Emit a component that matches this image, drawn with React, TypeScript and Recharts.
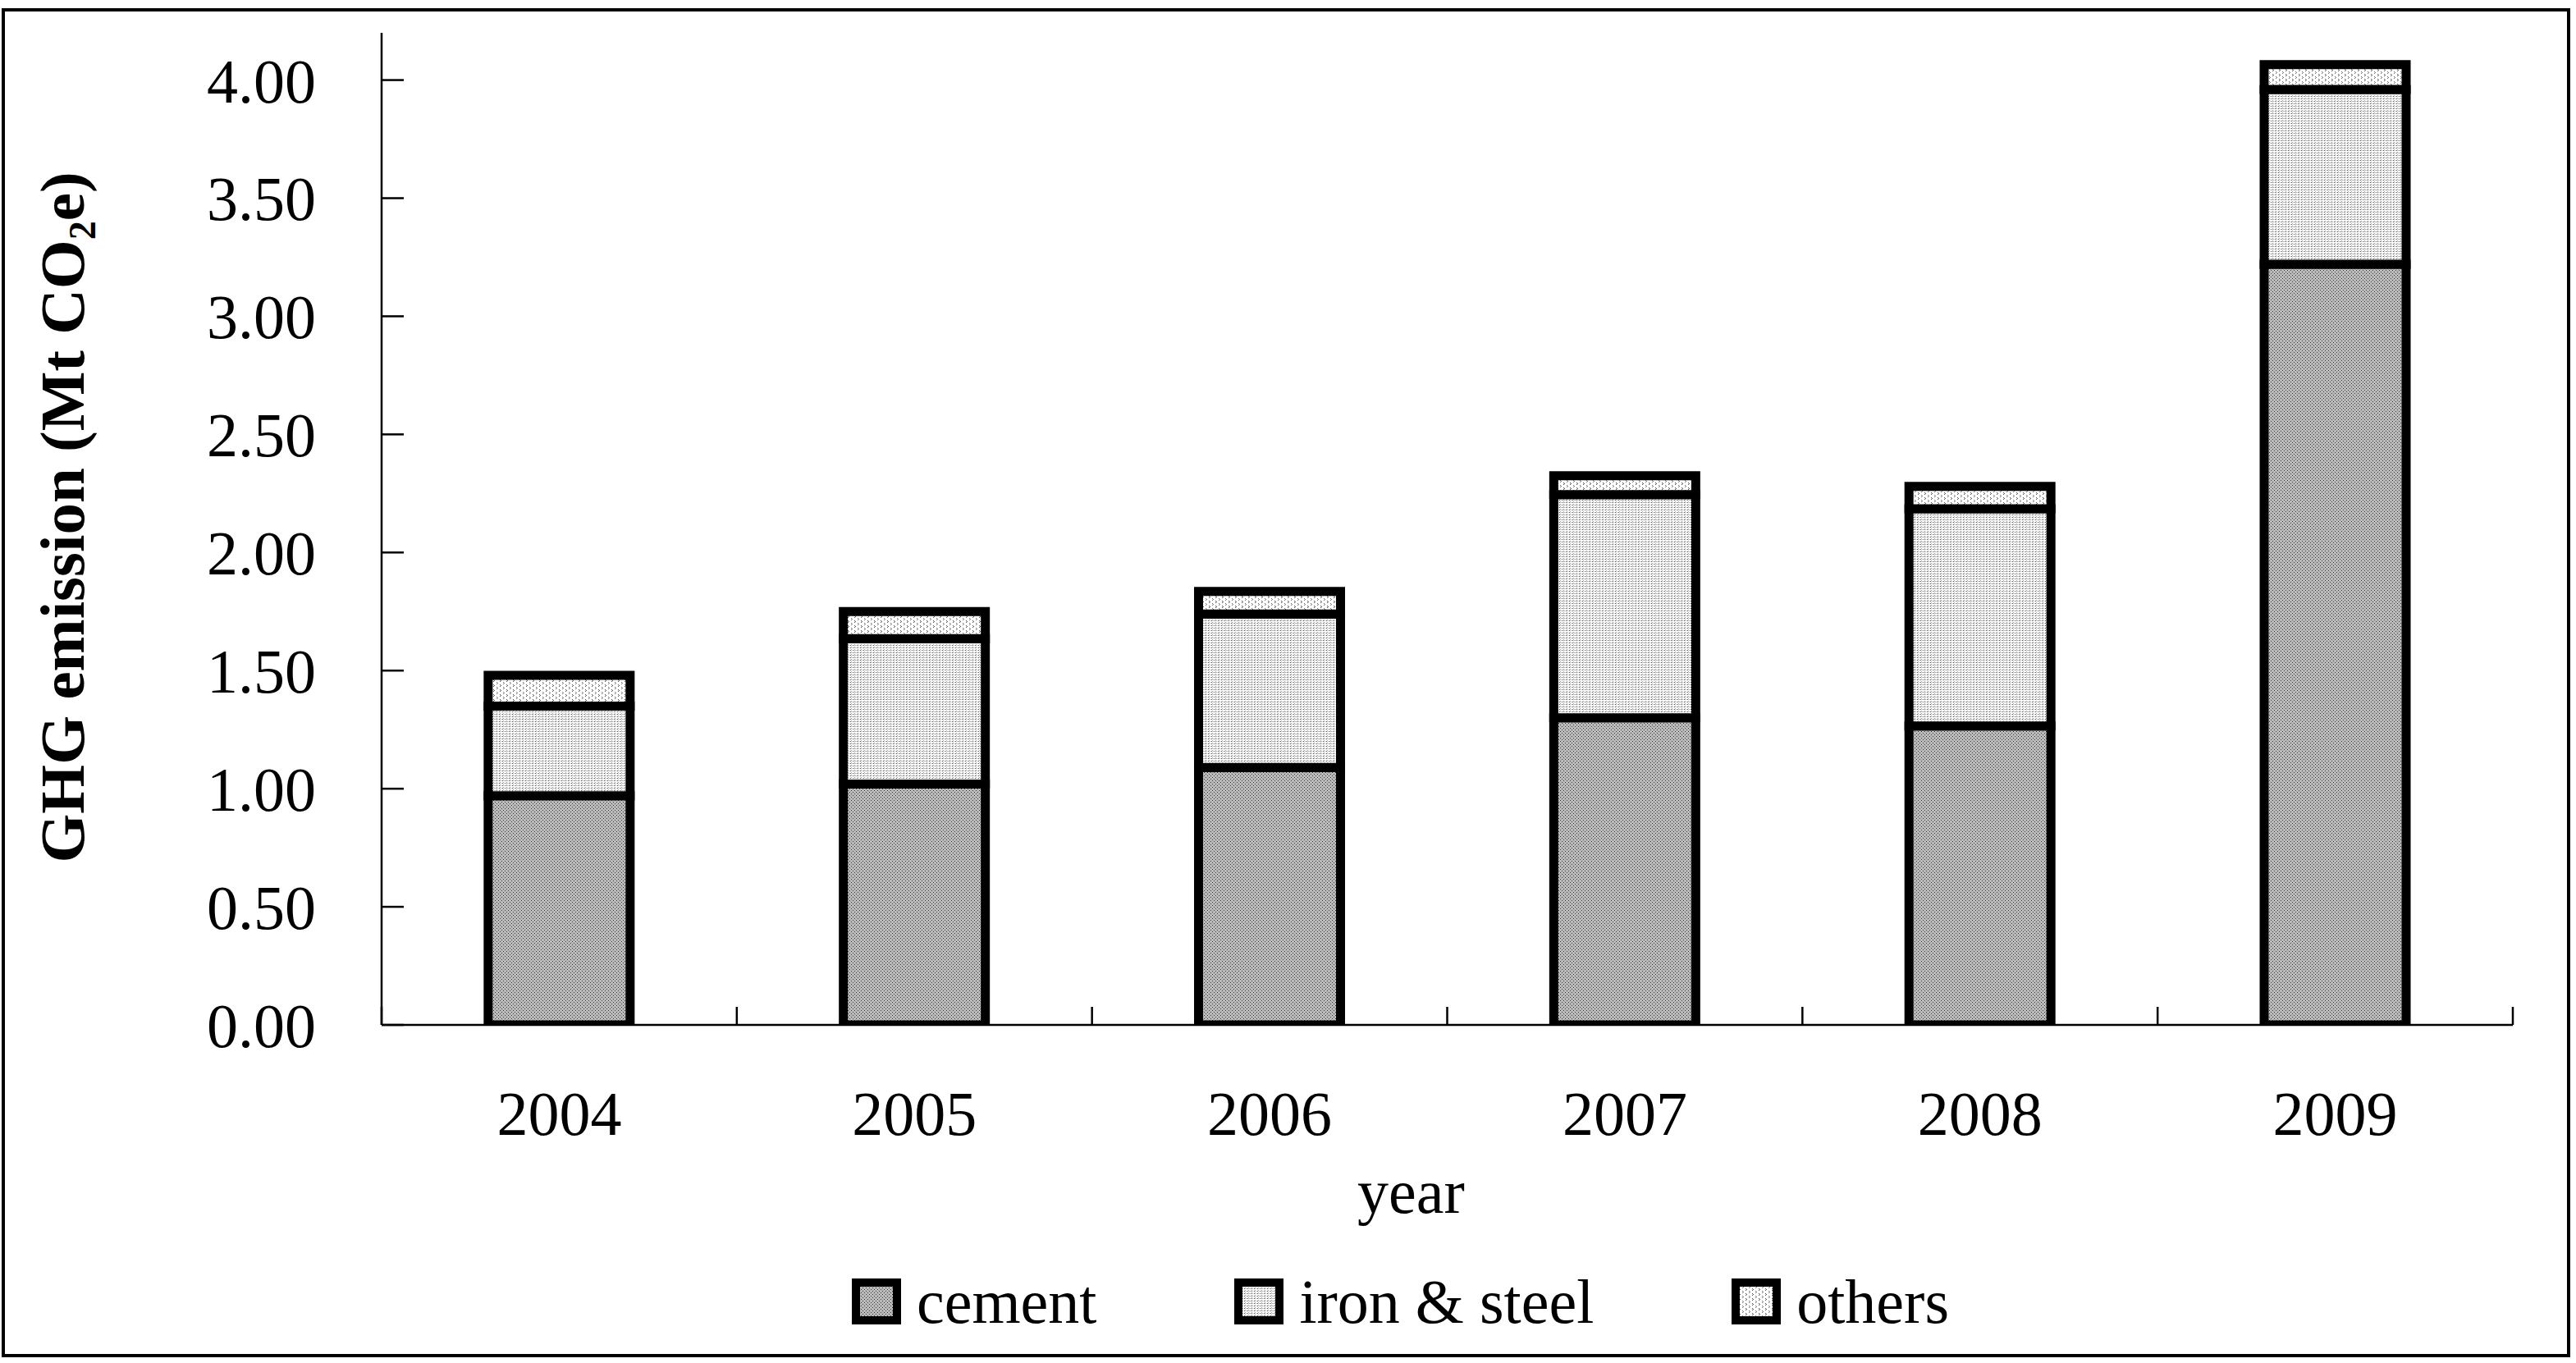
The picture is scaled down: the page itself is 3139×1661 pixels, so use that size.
import { Bar, BarChart, Label, XAxis, YAxis } from "recharts"

// values (Mt CO2e)
const years = ["2004", "2005", "2006", "2007", "2008", "2009"]
const cement = [0.97, 1.02, 1.09, 1.3, 1.265, 3.22]
const ironSteel = [0.38, 0.615, 0.65, 0.945, 0.92, 0.74]
const others = [0.13, 0.115, 0.095, 0.08, 0.095, 0.105]
const yTicks = [0, 0.5, 1, 1.5, 2, 2.5, 3, 3.5, 4]

const series = [
  { key: "cement", name: "cement", fill: "url(#pat-cement)" },
  { key: "ironSteel", name: "iron & steel", fill: "url(#pat-iron)" },
  { key: "others", name: "others", fill: "url(#pat-others)" },
]

const data = years.map((year, i) => ({
  year,
  cement: cement[i],
  ironSteel: ironSteel[i],
  others: others[i],
}))

const FONT = "'Liberation Serif', 'Times New Roman', serif"
const TICK_MARGIN = 80

const noLabel = () => <g />

// year label plus Excel-style tick marks on the category boundaries
function YearTick({ x, y, payload, index, visibleTicksCount }: any) {
  const axisY = y - TICK_MARGIN
  const half = payload.offset ?? 0
  const mark = (px: number) => (
    <line x1={px} x2={px} y1={axisY} y2={axisY - 22} stroke="#000" strokeWidth={2.5} />
  )
  return (
    <g>
      {mark(x - half)}
      {index === visibleTicksCount - 1 && mark(x + half)}
      <text x={x} y={y} dy="0.71em" textAnchor="middle" fontSize={76} fontFamily={FONT} fill="#000">
        {payload.value}
      </text>
    </g>
  )
}

function Patterns() {
  return (
    <svg width="0" height="0" style={{ position: "absolute" }}>
      <defs>
        <pattern id="pat-cement" width="4" height="4" patternUnits="userSpaceOnUse">
          <rect width="4" height="4" fill="#e8e8e8" />
          <rect x="0" y="0" width="1" height="1" fill="#8a8a8a" />
          <rect x="2" y="0" width="1" height="1" fill="#8a8a8a" />
          <rect x="1" y="1" width="1" height="1" fill="#8a8a8a" />
          <rect x="3" y="1" width="1" height="1" fill="#111" />
          <rect x="0" y="2" width="1" height="1" fill="#8a8a8a" />
          <rect x="2" y="2" width="1" height="1" fill="#8a8a8a" />
          <rect x="1" y="3" width="1" height="1" fill="#111" />
          <rect x="3" y="3" width="1" height="1" fill="#8a8a8a" />
        </pattern>
        <pattern id="pat-iron" width="4" height="3" patternUnits="userSpaceOnUse">
          <rect width="4" height="3" fill="#fff" />
          <rect x="0" y="0" width="1" height="1" fill="#444" />
          <rect x="2" y="0" width="1" height="1" fill="#999" />
          <rect x="1" y="2" width="1" height="1" fill="#aaa" />
        </pattern>
        <pattern id="pat-others" width="8" height="6" patternUnits="userSpaceOnUse">
          <rect width="8" height="6" fill="#fff" />
          <rect x="1" y="0" width="1" height="1" fill="#555" />
          <rect x="2" y="1" width="1" height="1" fill="#555" />
          <rect x="1" y="2" width="1" height="1" fill="#555" />
          <rect x="5" y="3" width="1" height="1" fill="#777" />
          <rect x="6" y="4" width="1" height="1" fill="#777" />
          <rect x="5" y="5" width="1" height="1" fill="#777" />
        </pattern>
      </defs>
    </svg>
  )
}

export default function App() {
  return (
    <div style={{ position: "absolute", left: 0, top: 0, width: 3139, height: 1661, background: "#fff" }}>
      <Patterns />
      <div
        style={{
          position: "absolute",
          left: 2,
          top: 10,
          width: 3130,
          height: 1644,
          border: "4px solid #000",
          boxSizing: "border-box",
        }}
      />
      <div style={{ position: "absolute", left: 0, top: 0 }}>
        <BarChart
          width={3139}
          height={1661}
          data={data}
          margin={{ top: 40, right: 77, bottom: 0, left: 0 }}
          barCategoryGap="30%"
        >
          <XAxis
            dataKey="year"
            height={412}
            interval={0}
            tickLine={false}
            tickSize={0}
            tickMargin={TICK_MARGIN}
            axisLine={{ stroke: "#000", strokeWidth: 2.5 }}
            tick={YearTick}
          >
            <Label
              content={({ viewBox }: any) => (
                <text
                  x={viewBox.x + viewBox.width / 2 - 44}
                  y={viewBox.y + 229}
                  textAnchor="middle"
                  fontSize={76}
                  fontFamily={FONT}
                  fill="#000"
                >
                  year
                </text>
              )}
            />
          </XAxis>
          <YAxis
            width={465}
            domain={[0, 4.2]}
            ticks={yTicks}
            interval={0}
            allowDataOverflow
            tickLine={false}
            tickSize={0}
            tickMargin={TICK_MARGIN}
            tickFormatter={(v: number) => v.toFixed(2)}
            axisLine={{ stroke: "#000", strokeWidth: 2.5 }}
            tick={{ fontSize: 76, fontFamily: FONT, fill: "#000" }}
          >
            <Label
              content={({ viewBox }: any) => {
                const cx = viewBox.x + 102
                const cy = viewBox.y + viewBox.height / 2 - 14
                return (
                  <text
                    x={cx}
                    y={cy}
                    transform={`rotate(-90 ${cx} ${cy})`}
                    textAnchor="middle"
                    fontSize={77}
                    fontWeight="bold"
                    fontFamily={FONT}
                    fill="#000"
                  >
                    GHG emission (Mt CO
                    <tspan fontSize={46} dy={14}>2</tspan>
                    <tspan dy={-14}>e)</tspan>
                  </text>
                )
              }}
            />
          </YAxis>
          <YAxis
            yAxisId="ticks"
            domain={[0, 4.2]}
            ticks={yTicks}
            interval={0}
            allowDataOverflow
            mirror
            tick={noLabel}
            axisLine={false}
            tickSize={27}
            tickLine={{ stroke: "#000", strokeWidth: 2.5 }}
          />
          {series.map((s) => (
            <Bar
              key={s.key}
              dataKey={s.key}
              name={s.name}
              stackId="total"
              fill={s.fill}
              stroke="#000"
              strokeWidth={11}
              isAnimationActive={false}
            />
          ))}
        </BarChart>
      </div>
      <div
        style={{
          position: "absolute",
          left: 1038,
          top: 1548,
          height: 76,
          display: "flex",
          alignItems: "center",
          gap: 168,
          fontFamily: FONT,
          fontSize: 76,
          lineHeight: 1,
          color: "#000",
        }}
      >
        {series.map((s) => (
          <div key={s.key} style={{ display: "flex", alignItems: "center", gap: 19 }}>
            <svg width={60} height={56}>
              <rect x={5} y={5} width={50} height={46} fill={s.fill} stroke="#000" strokeWidth={10} />
            </svg>
            <span>{s.name}</span>
          </div>
        ))}
      </div>
    </div>
  )
}
